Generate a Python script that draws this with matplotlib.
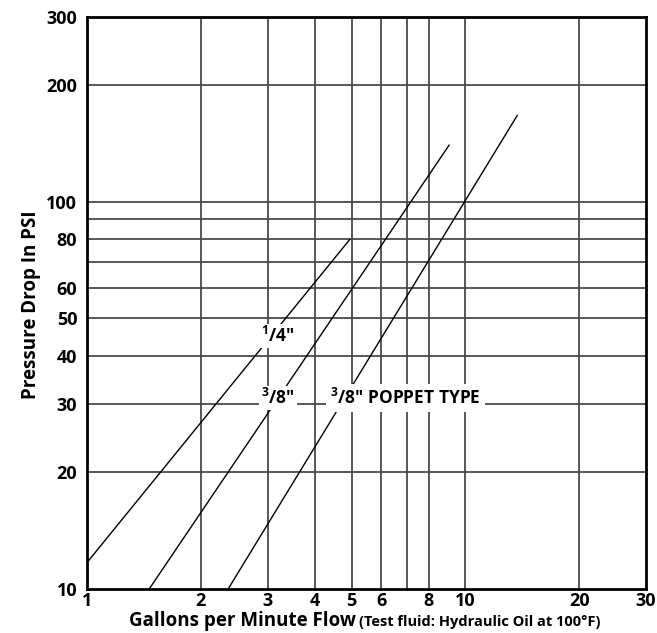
import matplotlib
matplotlib.use("Agg")
from matplotlib import pyplot as plt
from matplotlib.ticker import FixedLocator, NullLocator, FixedFormatter

plt.rcParams["font.family"] = ["Open Sans", "DejaVu Sans"]
plt.rcParams["font.weight"] = "bold"
plt.rcParams["mathtext.fontset"] = "custom"
plt.rcParams["mathtext.rm"] = "Open Sans:bold"
plt.rcParams["mathtext.default"] = "rm"

# flow (gpm) vs pressure drop (psi), end points
quarter_gpm = [1.0, 4.95]
quarter_psi = [11.7, 80]
three8_gpm = [1.46, 9.05]
three8_psi = [10, 140]
poppet_gpm = [2.36, 13.7]
poppet_psi = [10, 167]

x_grid = [2, 3, 4, 5, 6, 7, 8, 10, 20]
y_grid = [20, 30, 40, 50, 60, 70, 80, 90, 100, 200]
x_ticks = [1, 2, 3, 4, 5, 6, 8, 10, 20, 30]
y_ticks = [10, 20, 30, 40, 50, 60, 80, 100, 200, 300]

fig = plt.figure(figsize=(6.57, 6.33), dpi=100)
ax = fig.add_axes([0.1324, 0.0695, 0.8509, 0.9036])
ax.set_xscale("log")
ax.set_yscale("log")
ax.set_xlim(1, 30)
ax.set_ylim(10, 300)

for x in x_grid:
    ax.axvline(x, color="#4a4a4a", lw=1.3, zorder=1)
for y in y_grid:
    ax.axhline(y, color="#4a4a4a", lw=1.3, zorder=1)

ax.plot(quarter_gpm, quarter_psi, color="black", lw=1.0, zorder=2)
ax.plot(three8_gpm, three8_psi, color="black", lw=1.0, zorder=2)
ax.plot(poppet_gpm, poppet_psi, color="black", lw=1.0, zorder=2)

box = dict(facecolor="white", edgecolor="none", pad=1.5)
ax.text(3.2, 43.4, r'$^{1}$/4"', fontsize=12.5, ha="center", va="baseline",
        bbox=box, zorder=3)
ax.text(3.2, 30, r'$^{3}$/8"', fontsize=12.5, ha="center", va="baseline",
        bbox=box, zorder=3)
ax.text(4.38, 30, r'$^{3}$/8" POPPET TYPE', fontsize=12.5, ha="left",
        va="baseline", bbox=dict(facecolor="white", edgecolor="none", pad=3),
        zorder=3)

ax.xaxis.set_major_locator(FixedLocator(x_ticks))
ax.xaxis.set_major_formatter(FixedFormatter([str(v) for v in x_ticks]))
ax.xaxis.set_minor_locator(NullLocator())
ax.yaxis.set_major_locator(FixedLocator(y_ticks))
ax.yaxis.set_major_formatter(FixedFormatter([str(v) for v in y_ticks]))
ax.yaxis.set_minor_locator(NullLocator())
ax.tick_params(length=0, labelsize=13)
ax.tick_params(axis="x", pad=2)
ax.tick_params(axis="y", pad=7)
for s in ax.spines.values():
    s.set_linewidth(2)

fig.text(0.047, 0.518, "Pressure Drop In PSI", fontsize=13.5, fontweight="bold",
         rotation=90, ha="center", va="center")
fig.text(0.541, 0.011, "Gallons per Minute Flow", fontsize=13.5,
         fontweight="bold", ha="right", va="baseline")
fig.text(0.546, 0.011, "(Test fluid: Hydraulic Oil at 100°F)", fontsize=10.5,
         fontweight="bold", ha="left", va="baseline")

fig.savefig("out.png", dpi=100)
